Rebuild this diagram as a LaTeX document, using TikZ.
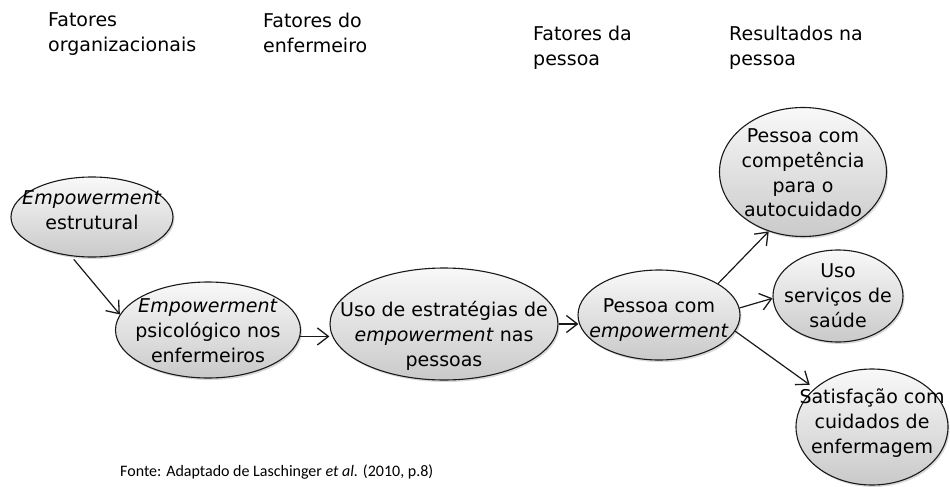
\documentclass[tikz,border=0pt]{standalone}
\usepackage{fontspec}
\setmainfont{DejaVu Sans}
\newfontfamily\fontefonte{Carlito}
\usetikzlibrary{shapes.geometric}
\usetikzlibrary{arrows.meta}
\usetikzlibrary{shadows}

\tikzset{
  elipse/.style={ellipse, draw=black!90, line width=1.1pt, inner sep=0pt,
    top color=gray!5, bottom color=gray!42,
    drop shadow={shadow xshift=1.5pt, shadow yshift=-2pt, opacity=0.3}},
  texto/.style={align=center, inner sep=0pt, font=\fontsize{19}{24.8}\selectfont},
  titulo/.style={align=left, anchor=north west, inner sep=0pt, font=\fontsize{19}{25}\selectfont},
  seta/.style={black!90, line width=1.2pt, -{Straight Barb[length=11pt,width=17pt,line width=1.3pt]}}
}

\begin{document}
\begin{tikzpicture}[x=1pt, y=-1pt]
	\useasboundingbox (0,0) rectangle (950,487);
	% colunas
	\node[titulo] (t1) at (48,12.5) {Fatores\\organizacionais};
	\node[titulo] (t2) at (263,12.5) {Fatores do\\enfermeiro};
	\node[titulo] (t3) at (533,26) {Fatores da\\pessoa};
	\node[titulo] (t4) at (729,25.5) {Resultados na\\pessoa};
	% elipses
	\node[elipse, minimum width=162pt, minimum height=80pt] (e1) at (92,217) {};
	\node[texto] (e1t) at (92,210) {\textit{Empowerment}\\estrutural};
	\node[elipse, minimum width=185pt, minimum height=96pt] (e2) at (208,330) {};
	\node[texto] (e2t) at (208,331) {\textit{Empowerment}\\psicológico nos\\enfermeiros};
	\node[elipse, minimum width=228pt, minimum height=112pt] (e3) at (444,324) {};
	\node[texto] (e3t) at (444,336) {Uso de estratégias de\\\textit{empowerment} nas\\pessoas};
	\node[elipse, minimum width=162pt, minimum height=90pt] (e4) at (659,315) {};
	\node[texto] (e4t) at (659,320) {Pessoa com\\\textit{empowerment}};
	\node[elipse, minimum width=167pt, minimum height=129pt] (e5) at (803,172) {};
	\node[texto] (e5t) at (803,173) {Pessoa com\\competência\\para o\\autocuidado};
	\node[elipse, minimum width=130pt, minimum height=92pt] (e6) at (838,296) {};
	\node[texto] (e6t) at (838,296) {Uso\\serviços de\\saúde};
	\node[elipse, minimum width=152pt, minimum height=116pt] (e7) at (872,427) {};
	\node[texto] (e7t) at (872,423) {Satisfação com\\cuidados de\\enfermagem};
	% setas
	\draw[seta, shorten <=4pt] (e1.242) -- (e2.170);
	\draw[seta] (e2.-4) -- (e2.-4 -| e3.west);
	\draw[seta, shorten >=-1pt] (e3.east) -- (e3.east -| e4.west);
	\draw[seta] (e4.28) -- (e5.240);
	\draw[seta] (e4.5) -- (e6.182);
	\draw[seta, shorten >=6pt] (e4.-12) -- (e7.146);
	% fonte
	\node[anchor=base west, inner sep=0pt, font=\fontefonte\fontsize{16}{19}\selectfont] (fonte) at (120,476) {Fonte: Adaptado de Laschinger \textit{et al.} (2010, p.8)};
\end{tikzpicture}
\end{document}
